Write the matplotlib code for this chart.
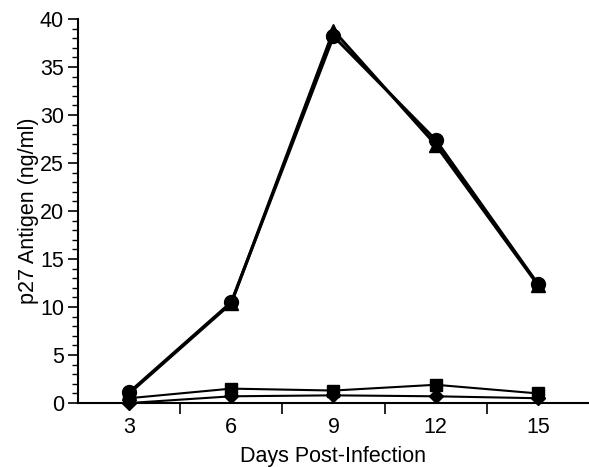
import matplotlib
matplotlib.use("Agg")
import matplotlib.pyplot as plt
from matplotlib.ticker import MultipleLocator, FixedLocator

plt.rcParams['font.family'] = ['Liberation Sans', 'DejaVu Sans']

days = [3, 6, 9, 12, 15]
circles = [1.1, 10.5, 38.2, 27.4, 12.4]
triangles = [1.0, 10.4, 38.8, 26.9, 12.3]
squares = [0.5, 1.5, 1.3, 1.9, 1.0]
diamonds = [0.0, 0.7, 0.8, 0.7, 0.5]

fig = plt.figure(figsize=(5.89, 4.67), dpi=100)
ax = fig.add_axes([0.1324, 0.137, 0.8676, 0.8223])

# low series first, thin lines
ax.plot(days, diamonds, color="black", lw=1.5, marker="D", ms=7, clip_on=False, zorder=3)
ax.plot(days, squares, color="black", lw=1.5, marker="s", ms=9, clip_on=False, zorder=3)
# high series, thick lines
ax.plot(days, triangles, color="black", lw=2.2, marker="^", ms=10, clip_on=False, zorder=4)
ax.plot(days, circles, color="black", lw=2.2, marker="o", ms=10, clip_on=False, zorder=4)

ax.set_xlim(1.5, 16.5)
ax.set_ylim(0, 40)

ax.spines["top"].set_visible(False)
ax.spines["right"].set_visible(False)
ax.spines["left"].set_linewidth(1.5)
ax.spines["bottom"].set_linewidth(1.5)

# x: labels at the data days, tick marks in between
ax.xaxis.set_major_locator(FixedLocator(days))
ax.xaxis.set_minor_locator(FixedLocator([4.5, 7.5, 10.5, 13.5]))
ax.tick_params(axis="x", which="major", length=0, pad=10, labelsize=15.5)
ax.tick_params(axis="x", which="minor", length=8, width=1.2, direction="out")

ax.yaxis.set_major_locator(MultipleLocator(5))
ax.yaxis.set_minor_locator(MultipleLocator(1))
ax.tick_params(axis="y", which="major", length=7, width=1.2, labelsize=15.5, pad=3)
ax.tick_params(axis="y", which="minor", length=4, width=1.0)

ax.set_xlabel("Days Post-Infection", fontsize=15.5, labelpad=6)
ax.set_ylabel("p27 Antigen (ng/ml)", fontsize=15.5, labelpad=1)

plt.savefig("out.png", dpi=100)
